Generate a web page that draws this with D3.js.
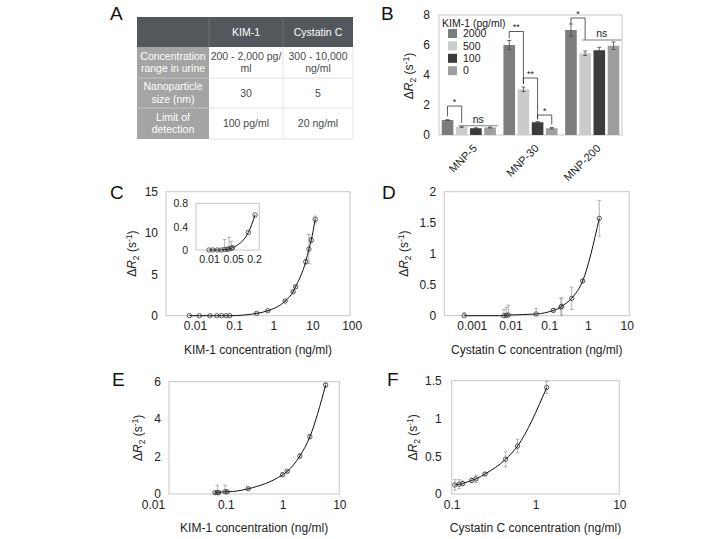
<!DOCTYPE html>
<html><head><meta charset="utf-8">
<script src="https://cdn.jsdelivr.net/npm/d3@7"></script>
<style>
body{margin:0;background:#fff}
svg{display:block;font-family:"Liberation Sans",Arial,Helvetica,sans-serif}
</style>
</head><body>
<svg id="chart" width="728" height="539"></svg>
<script>
// ---------------- DATA ----------------
// Panel A table
const tableColumns = ["", "KIM-1", "Cystatin C"];
const tableRowLabels = [["Concentration","range in urine"],["Nanoparticle","size (nm)"],["Limit of","detection"]];
const tableKim = [["200 - 2,000 pg/","ml"],["30"],["100 pg/ml"]];
const tableCys = [["300 - 10,000","ng/ml"],["5"],["20 ng/ml"]];

// Panel B bars
const bGroups = ["MNP-5","MNP-30","MNP-200"];
const bSeries = ["2000","500","100","0"];
const bLegendTitle = "KIM-1 (pg/ml)";
const bValues = [[1.0,0.55,0.45,0.5],[6.0,3.05,0.85,0.45],[7.0,5.45,5.65,5.95]];
const bErrors = [[0.02,0.04,0.03,0.03],[0.3,0.15,0.05,0.05],[0.4,0.15,0.2,0.25]];
const bYTicks = [0,2,4,6,8];
const bSigBrackets = [
  {group:"MNP-5", a:"2000", b:"500", label:"*", level:1.93, dropA:1.25, dropB:0.8},
  {group:"MNP-30", a:"2000", b:"500", label:"**", level:6.9, dropA:6.45, dropB:3.4},
  {group:"MNP-30", a:"500", b:"100", label:"**", level:3.8, dropA:3.4, dropB:1.05},
  {group:"MNP-30", a:"100", b:"0", label:"*", level:1.33, dropA:1.05, dropB:0.7},
  {group:"MNP-200", a:"2000", b:"500", label:"*", level:7.8, dropA:7.4, dropB:6.33}
];
const bNsLines = [
  {group:"MNP-5", a:"500", b:"0", level:0.62},
  {group:"MNP-200", a:"500", b:"0", level:6.33}
];

// Panel C (KIM-1, main)
const cX = [0.0072,0.0129,0.024,0.036,0.048,0.062,0.077,0.375,0.72,2.0,3.2,3.7,6.7,8.1,9.3,11.7];
const cY = [0,0,0,0,0,0,0,0.28,0.6,1.77,2.9,3.5,6.53,8.06,9.15,11.65];
const cErr = [0,0,0,0,0,0,0,0.05,0.05,0.1,0.1,0.15,0.3,1.75,0.3,0.4];
const cXTicks = [0.01,0.1,1,10,100];
const cXLabels = ["0.01","0.1","1","10","100"];
const cYTicks = [0,5,10,15];
const cXDomain = [0.00182, 90.5];
// Panel C inset
const ciX = [0.01,0.0128,0.0174,0.0227,0.0283,0.0333,0.0378,0.0441,0.048,0.137,0.214];
const ciY = [0,0,0,0,0.01,0.01,0.02,0.03,0.04,0.30,0.60];
const ciErr = [0,0,0,0,0.17,0,0.2,0.12,0,0,0];
const ciXTicks = [0.01,0.05,0.2];
const ciXLabels = ["0.01","0.05","0.2"];
const ciYTicks = [0,0.4,0.8];
const ciXDomain = [0.0042, 0.284];

// Panel D (Cystatin C)
const dX = [0.00064,0.0068,0.0078,0.0088,0.046,0.128,0.20,0.21,0.38,0.73,1.96];
const dY = [0,0,0.005,0.01,0.027,0.086,0.14,0.15,0.28,0.56,1.57];
const dErr = [0.05,0.1,0.13,0.16,0.09,0.03,0.14,0.14,0.18,0.02,0.29];
const dXTicks = [0.001,0.01,0.1,1,10];
const dXLabels = ["0.001","0.01","0.1","1","10"];
const dYTicks = [0,0.5,1,1.5,2];
const dXDomain = [0.000196, 11.67];

// Panel E (KIM-1)
const eX = [0.0646,0.071,0.075,0.097,0.106,0.249,1.0,1.21,2.02,3.03,5.74];
const eY = [0.07,0.07,0.08,0.12,0.12,0.28,1.03,1.21,2.03,3.06,5.82];
const eErr = [0.05,0.4,0.05,0.35,0.05,0.05,0.1,0.05,0.1,0.1,0.1];
const eXTicks = [0.01,0.1,1,10];
const eXLabels = ["0.01","0.1","1","10"];
const eYTicks = [0,2,4,6];

// Panel F (Cystatin C)
const fX = [0.109,0.123,0.135,0.173,0.195,0.25,0.44,0.61,1.36];
const fY = [0.12,0.13,0.14,0.18,0.2,0.265,0.46,0.635,1.41];
const fErr = [0.07,0.06,0.03,0.03,0.05,0.02,0.1,0.09,0.08];
const fXTicks = [0.1,1,10];
const fXLabels = ["0.1","1","10"];
const fYTicks = [0,0.5,1,1.5];

const kimTitle = "KIM-1 concentration (ng/ml)";
const cysTitle = "Cystatin C concentration (ng/ml)";

// ---------------- LAYOUT ----------------
const svg = d3.select("#chart");
const TXT = "#222";
const colors = {"2000":"#7d7d7d","500":"#cbcbcb","100":"#3b3b3b","0":"#9e9e9e"};
const numFmt = d => String(d);

function panelLetter(t, x, y){
  svg.append("text").attr("x",x).attr("y",y).attr("font-size",19).attr("fill","#111").text(t);
}
panelLetter("A",110,20); panelLetter("B",381,20);
panelLetter("C",110,199); panelLetter("D",382,199);
panelLetter("E",112,386); panelLetter("F",387,386);

function yTitle(cx, cy){
  const t = svg.append("text").attr("transform",`translate(${cx},${cy}) rotate(-90)`)
    .attr("text-anchor","middle").attr("font-size",12).attr("fill",TXT);
  t.append("tspan").text("Δ");
  t.append("tspan").attr("font-style","italic").text("R");
  t.append("tspan").attr("font-size",8.5).attr("dy",3).text("2");
  t.append("tspan").attr("dy",-3).text(" (s");
  t.append("tspan").attr("font-size",8.5).attr("dy",-4.5).text("-1");
  t.append("tspan").attr("dy",4.5).text(")");
}

// ---------- Panel A: table ----------
(function(){
  const cx = [137,209,283,353];
  const ry = [17,47,78,108,139];
  const g = svg.append("g");
  g.append("rect").attr("x",cx[0]).attr("y",ry[0]).attr("width",cx[3]-cx[0]).attr("height",ry[1]-ry[0]).attr("fill","#54585d");
  g.append("rect").attr("x",cx[0]).attr("y",ry[1]).attr("width",cx[1]-cx[0]).attr("height",ry[4]-ry[1]).attr("fill","#a4a4a4");
  [2,3,4].forEach(i=>{
    g.append("line").attr("x1",cx[1]).attr("x2",cx[3]).attr("y1",ry[i]).attr("y2",ry[i]).attr("stroke","#e2e2e2");
    if(i<4) g.append("line").attr("x1",cx[0]).attr("x2",cx[1]).attr("y1",ry[i]).attr("y2",ry[i]).attr("stroke","#c4c4c4");
  });
  g.append("line").attr("x1",cx[2]).attr("x2",cx[2]).attr("y1",ry[1]).attr("y2",ry[4]).attr("stroke","#e2e2e2");
  g.append("line").attr("x1",cx[3]).attr("x2",cx[3]).attr("y1",ry[1]).attr("y2",ry[4]).attr("stroke","#e8e8e8");
  g.append("line").attr("x1",cx[1]).attr("x2",cx[1]).attr("y1",ry[0]).attr("y2",ry[1]).attr("stroke","#6a6e73");
  g.append("line").attr("x1",cx[2]).attr("x2",cx[2]).attr("y1",ry[0]).attr("y2",ry[1]).attr("stroke","#6a6e73");
  function cell(lines, col, row, fill){
    const xc = (cx[col]+cx[col+1])/2, yc = (ry[row]+ry[row+1])/2;
    const n = lines.length, lh = 12.5;
    lines.forEach((s,i)=>{
      g.append("text").attr("x",xc).attr("y",yc + (i-(n-1)/2)*lh).attr("dy","0.35em")
        .attr("text-anchor","middle").attr("font-size",10.5).attr("fill",fill).text(s);
    });
  }
  tableColumns.forEach((c,i)=>{ if(c) cell([c], i, 0, "#ffffff"); });
  tableRowLabels.forEach((l,i)=>cell(l,0,i+1,"#ffffff"));
  tableKim.forEach((l,i)=>cell(l,1,i+1,"#4a4a4a"));
  tableCys.forEach((l,i)=>cell(l,2,i+1,"#4a4a4a"));
})();

// ---------- Panel B: bars ----------
(function(){
  const L = {left:439,right:622,top:15,bottom:135};
  const y = d3.scaleLinear().domain([0,8]).range([L.bottom,L.top]);
  const x0 = d3.scaleBand().domain(bGroups).range([L.left,L.right]).paddingInner(0.123).paddingOuter(0.044);
  const x1 = d3.scaleBand().domain(bSeries).range([0,x0.bandwidth()]).paddingInner(0.18);
  const g = svg.append("g");
  g.append("rect").attr("x",L.left).attr("y",L.top).attr("width",L.right-L.left).attr("height",L.bottom-L.top)
    .attr("fill","none").attr("stroke","#c8c8c8");
  const ya = g.append("g").attr("transform",`translate(${L.left},0)`)
    .call(d3.axisLeft(y).tickValues(bYTicks).tickFormat(numFmt).tickSize(0).tickPadding(9));
  ya.select(".domain").remove();
  ya.attr("font-size",12).attr("font-family",null).attr("color",TXT);
  bGroups.forEach((gr,gi)=>{
    bSeries.forEach((s,si)=>{
      const v = bValues[gi][si], e = bErrors[gi][si];
      const bx = x0(gr)+x1(s), bw = x1.bandwidth();
      g.append("rect").attr("x",bx).attr("y",y(v)).attr("width",bw).attr("height",y(0)-y(v)).attr("fill",colors[s]);
      const cxm = bx+bw/2;
      g.append("line").attr("x1",cxm).attr("x2",cxm).attr("y1",y(v-e)).attr("y2",y(v+e)).attr("stroke","#444").attr("stroke-width",0.8);
      [v-e,v+e].forEach(t=>g.append("line").attr("x1",cxm-2).attr("x2",cxm+2).attr("y1",y(t)).attr("y2",y(t)).attr("stroke","#444").attr("stroke-width",0.8));
    });
    const c = x0(gr)+x0.bandwidth()/2;
    g.append("text").attr("transform",`translate(${c+9},149) rotate(-45)`).attr("text-anchor","end")
      .attr("font-size",11).attr("fill",TXT).text(gr);
  });
  const bw = x1.bandwidth();
  bSigBrackets.forEach(b=>{
    const xa = x0(b.group)+x1(b.a)+bw/2, xb = x0(b.group)+x1(b.b)+bw/2;
    g.append("path").attr("d",`M${xa},${y(b.dropA)}V${y(b.level)}H${xb}V${y(b.dropB)}`)
      .attr("fill","none").attr("stroke","#333").attr("stroke-width",0.8);
    g.append("text").attr("x",(xa+xb)/2).attr("y",y(b.level)-1.5).attr("text-anchor","middle")
      .attr("font-size",9).attr("fill",TXT).text(b.label);
  });
  bNsLines.forEach(n=>{
    const xa = x0(n.group)+x1(n.a)+bw/2-3, xb = x0(n.group)+x1(n.b)+bw+2;
    g.append("line").attr("x1",xa).attr("x2",xb).attr("y1",y(n.level)).attr("y2",y(n.level))
      .attr("stroke","#808080").attr("stroke-width",1.1);
    g.append("text").attr("x",(xa+xb)/2).attr("y",y(n.level)-3).attr("text-anchor","middle")
      .attr("font-size",10.5).attr("fill",TXT).text("ns");
  });
  g.append("text").attr("x",442).attr("y",26.5).attr("font-size",10.5).attr("fill",TXT).text(bLegendTitle);
  bSeries.forEach((s,i)=>{
    const yc = 33.5 + i*12.4;
    g.append("rect").attr("x",448).attr("y",yc-4.5).attr("width",9).attr("height",9).attr("fill",colors[s]);
    g.append("text").attr("x",463).attr("y",yc).attr("dy","0.35em").attr("font-size",10.5).attr("fill",TXT).text(s);
  });
  yTitle(413, 76);
})();

// ---------- scatter helper ----------
function scatter(o){
  const L = o.L;
  const fs = o.fontSize || 12;
  const x = d3.scaleLog().domain(o.xDomain).range([L.left,L.right]);
  const y = d3.scaleLinear().domain(o.yDomain).range([L.bottom,L.top]);
  const g = svg.append("g");
  g.append("rect").attr("x",L.left).attr("y",L.top).attr("width",L.right-L.left).attr("height",L.bottom-L.top)
    .attr("fill","#fff").attr("stroke","#c6c6c6");
  const xa = g.append("g").attr("transform",`translate(0,${L.bottom})`)
    .call(d3.axisBottom(x).tickValues(o.xTicks).tickFormat((d,i)=>o.xLabels[i]).tickSize(0).tickPadding(6));
  xa.select(".domain").remove();
  xa.attr("font-size",fs).attr("font-family",null).attr("color",TXT);
  if(o.firstDx) xa.select(".tick text").attr("dx",o.firstDx);
  const ya = g.append("g").attr("transform",`translate(${L.left},0)`)
    .call(d3.axisLeft(y).tickValues(o.yTicks).tickFormat(numFmt).tickSize(0).tickPadding(o.yPad||8));
  ya.select(".domain").remove();
  ya.attr("font-size",fs).attr("font-family",null).attr("color",TXT);
  const pts = o.xs.map((v,i)=>[v,o.ys[i],o.errs[i]]);
  pts.forEach(p=>{
    if(!p[2]) return;
    const px = x(p[0]), lo = Math.max(0,p[1]-p[2]), hi = p[1]+p[2];
    g.append("line").attr("x1",px).attr("x2",px).attr("y1",y(lo)).attr("y2",y(hi)).attr("stroke","#a0a0a0").attr("stroke-width",0.8);
    g.append("line").attr("x1",px-1.8).attr("x2",px+1.8).attr("y1",y(hi)).attr("y2",y(hi)).attr("stroke","#a0a0a0").attr("stroke-width",0.8);
    if(lo>0) g.append("line").attr("x1",px-1.8).attr("x2",px+1.8).attr("y1",y(lo)).attr("y2",y(lo)).attr("stroke","#a0a0a0").attr("stroke-width",0.8);
  });
  g.append("path").datum(pts).attr("d",d3.line().x(d=>x(d[0])).y(d=>y(d[1])).curve(d3.curveMonotoneX))
    .attr("fill","none").attr("stroke","#111").attr("stroke-width",1);
  g.selectAll(null).data(pts).enter().append("circle").attr("cx",d=>x(d[0])).attr("cy",d=>y(d[1])).attr("r",2.2)
    .attr("fill","none").attr("stroke","#333").attr("stroke-width",0.8);
  if(o.title){
    g.append("text").attr("x",(L.left+L.right)/2).attr("y",o.titleY).attr("text-anchor","middle")
      .attr("font-size",12).attr("fill",TXT).text(o.title);
  }
  if(o.yTitleX) yTitle(o.yTitleX, (L.top+L.bottom)/2);
}

// Panel C
scatter({L:{left:166,right:350,top:191.7,bottom:315.7}, xDomain:cXDomain, yDomain:[0,15],
  xs:cX, ys:cY, errs:cErr, xTicks:cXTicks, xLabels:cXLabels, yTicks:cYTicks,
  title:kimTitle, titleY:354, yTitleX:136});
// inset
scatter({L:{left:196,right:259.3,top:203.3,bottom:250}, xDomain:ciXDomain, yDomain:[0,0.8],
  xs:ciX, ys:ciY, errs:ciErr, xTicks:ciXTicks, xLabels:ciXLabels, yTicks:ciYTicks, fontSize:10.5});
// Panel D
scatter({L:{left:444.3,right:629.3,top:191.7,bottom:315.7}, xDomain:dXDomain, yDomain:[0,2],
  xs:dX, ys:dY, errs:dErr, xTicks:dXTicks, xLabels:dXLabels, yTicks:dYTicks,
  title:cysTitle, titleY:354, yTitleX:408});
// Panel E
scatter({L:{left:169,right:339.3,top:381.7,bottom:494}, xDomain:[0.01,10], yDomain:[0,6],
  xs:eX, ys:eY, errs:eErr, xTicks:eXTicks, xLabels:eXLabels, yTicks:eYTicks, firstDx:-16,
  title:kimTitle, titleY:532, yTitleX:142});
// Panel F
scatter({L:{left:451.7,right:619.3,top:380.7,bottom:494}, xDomain:[0.1,10], yDomain:[0,1.5],
  xs:fX, ys:fY, errs:fErr, xTicks:fXTicks, xLabels:fXLabels, yTicks:fYTicks, yPad:10,
  title:cysTitle, titleY:532, yTitleX:417});
</script>
</body></html>
